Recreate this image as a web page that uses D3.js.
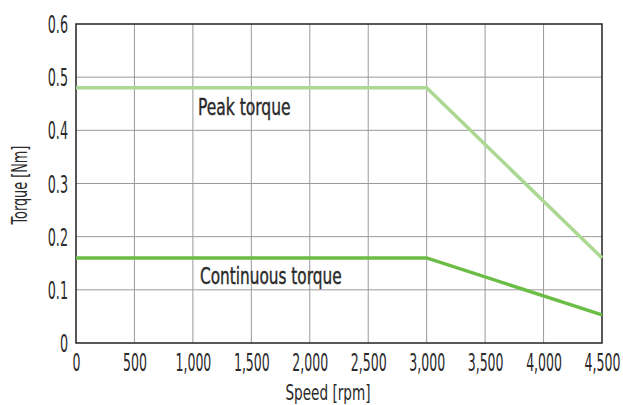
<!DOCTYPE html>
<html>
<head>
<meta charset="utf-8">
<script src="https://cdn.jsdelivr.net/npm/d3@7"></script>
<style>
  body { margin: 0; background: #fff; }
  text { font-family: "DejaVu Sans Condensed", "DejaVu Sans", sans-serif; fill: #2a2a2a; }
</style>
</head>
<body>
<div id="chart"></div>
<script>
var speeds = [0, 3000, 4500];
var peakTorque = [0.48, 0.48, 0.16];
var contTorque = [0.16, 0.16, 0.053];
var xTicks = [0, 500, 1000, 1500, 2000, 2500, 3000, 3500, 4000, 4500];
var yTicks = [0, 0.1, 0.2, 0.3, 0.4, 0.5, 0.6];

var width = 623, height = 405;
var margin = {top: 24, right: 21, bottom: 62, left: 76};

var svg = d3.select('#chart')
  .append('svg')
  .attr('width', width)
  .attr('height', height);

var x = d3.scaleLinear().domain([0, 4500]).range([margin.left, width - margin.right]);
var y = d3.scaleLinear().domain([0, 0.6]).range([height - margin.bottom, margin.top]);

// squeeze text horizontally to mimic the narrow font
function squeeze(sel, k) {
  sel.each(function() {
    var w = this.getComputedTextLength();
    d3.select(this).attr('textLength', w * k).attr('lengthAdjust', 'spacingAndGlyphs');
  });
}

// grid
svg.append('g')
  .selectAll('line')
  .data(xTicks.slice(1, -1))
  .enter().append('line')
  .attr('x1', d => x(d)).attr('x2', d => x(d))
  .attr('y1', y(0)).attr('y2', y(0.6))
  .attr('stroke', '#9a9a9a').attr('stroke-width', 1);

svg.append('g')
  .selectAll('line')
  .data(yTicks.slice(1, -1))
  .enter().append('line')
  .attr('x1', x(0)).attr('x2', x(4500))
  .attr('y1', d => y(d)).attr('y2', d => y(d))
  .attr('stroke', '#9a9a9a').attr('stroke-width', 1);

// frame
svg.append('rect')
  .attr('x', x(0)).attr('y', y(0.6))
  .attr('width', x(4500) - x(0)).attr('height', y(0) - y(0.6))
  .attr('fill', 'none').attr('stroke', '#222').attr('stroke-width', 1.5);

// axes
var xAxis = d3.axisBottom(x).tickValues(xTicks).tickSize(0).tickPadding(11)
  .tickFormat(d3.format(','));
svg.append('g')
  .attr('transform', 'translate(0,' + y(0) + ')')
  .call(xAxis)
  .call(g => g.select('.domain').remove())
  .selectAll('text').style('font-size', '24px').attr('dy', '0.72em')
  .call(squeeze, 0.58);

var yAxis = d3.axisLeft(y).tickValues(yTicks).tickSize(0).tickPadding(8)
  .tickFormat(d => d === 0 ? '0' : d3.format('.1f')(d));
svg.append('g')
  .attr('transform', 'translate(' + x(0) + ',0)')
  .call(yAxis)
  .call(g => g.select('.domain').remove())
  .selectAll('text').style('font-size', '24px').attr('dy', '0.36em')
  .call(squeeze, 0.59);

// lines
var line = d3.line().x((d, i) => x(speeds[i])).y(d => y(d));

svg.append('path')
  .datum(peakTorque)
  .attr('d', line)
  .attr('fill', 'none')
  .attr('stroke', '#abd893')
  .attr('stroke-width', 3.5);

svg.append('path')
  .datum(contTorque)
  .attr('d', line)
  .attr('fill', 'none')
  .attr('stroke', '#6bbd45')
  .attr('stroke-width', 3.5);

// labels
svg.append('text')
  .attr('x', 198).attr('y', 115)
  .style('font-size', '23px')
  .attr('stroke', '#2a2a2a').attr('stroke-width', 0.4)
  .text('Peak torque')
  .call(squeeze, 0.75);

svg.append('text')
  .attr('x', 200).attr('y', 284)
  .style('font-size', '23px')
  .attr('stroke', '#2a2a2a').attr('stroke-width', 0.4)
  .text('Continuous torque')
  .call(squeeze, 0.74);

// axis titles
svg.append('text')
  .attr('x', 328).attr('y', 400)
  .attr('text-anchor', 'middle')
  .style('font-size', '21px')
  .text('Speed [rpm]')
  .call(squeeze, 0.72);

svg.append('text')
  .attr('transform', 'translate(27,185) rotate(-90)')
  .attr('text-anchor', 'middle')
  .style('font-size', '21px')
  .text('Torque [Nm]')
  .call(squeeze, 0.68);
</script>
</body>
</html>
